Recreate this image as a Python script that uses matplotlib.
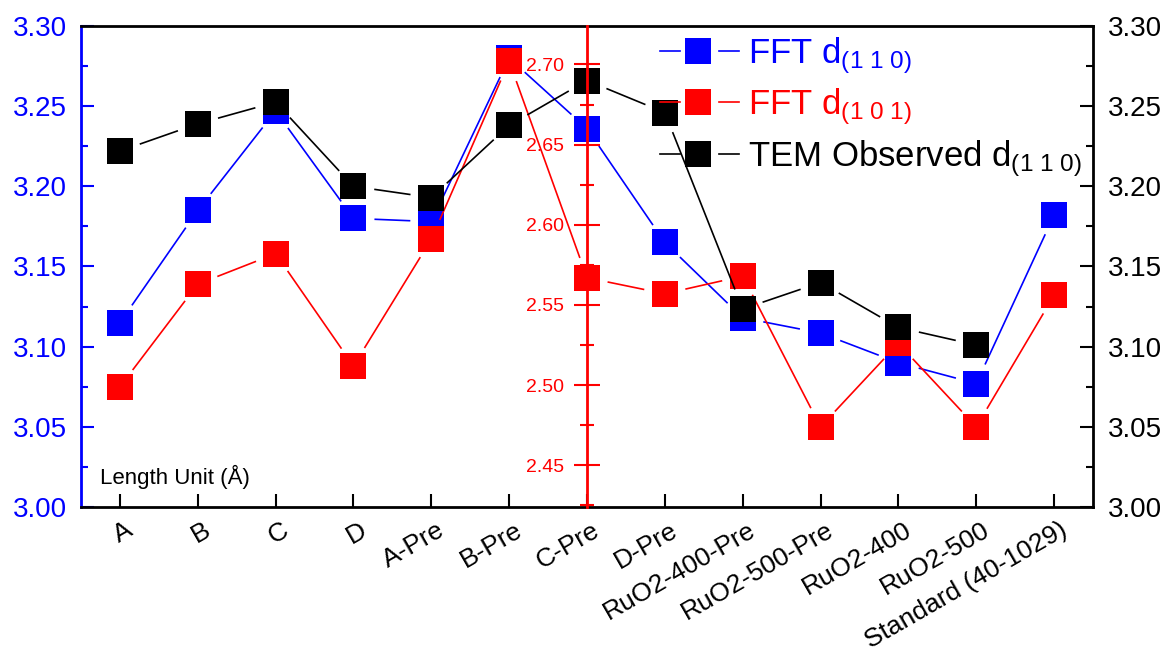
import numpy as np
import matplotlib
matplotlib.use('Agg')
import matplotlib.pyplot as plt
import matplotlib.transforms as mtransforms
from matplotlib.lines import Line2D
from matplotlib.ticker import MultipleLocator, FormatStrFormatter

plt.rcParams['font.family'] = ['Liberation Sans', 'DejaVu Sans']
plt.rcParams['mathtext.fontset'] = 'custom'
plt.rcParams['mathtext.rm'] = 'Liberation Sans'
plt.rcParams['mathtext.it'] = 'Liberation Sans:italic'
plt.rcParams['mathtext.bf'] = 'Liberation Sans:bold'

samples = ['A', 'B', 'C', 'D', 'A-Pre', 'B-Pre', 'C-Pre', 'D-Pre',
           'RuO2-400-Pre', 'RuO2-500-Pre', 'RuO2-400', 'RuO2-500',
           'Standard (40-1029)']
# d-spacings in Angstrom
fft_110 = [3.115, 3.185, 3.247, 3.180, 3.178, 3.280, 3.236, 3.165,
           3.118, 3.1085, 3.090, 3.077, 3.182]
fft_101 = [2.499, 2.563, 2.582, 2.512, 2.591, 2.702, 2.567, 2.557,
           2.568, 2.474, 2.526, 2.474, 2.556]
tem_110 = [3.222, 3.239, 3.2525, 3.200, 3.193, 3.238, 3.266, 3.246,
           3.1235, 3.140, 3.112, 3.101]

BLUE = '#0000ff'
RED = '#ff0000'
BLACK = '#000000'

W, H = 1169, 655
fig = plt.figure(figsize=(W / 100, H / 100), dpi=100)
ax = fig.add_axes([81 / W, 1 - 507 / H, (1093 - 81) / W, (507 - 26) / H])
ax.set_xlim(-0.5, 12.5)
ax.set_ylim(3.00, 3.30)

ax_r = ax.twinx()
ax_r.set_ylim(3.00, 3.30)
ax_red = ax.twinx()
ax_red.set_ylim(2.424, 2.724)

# spines
for s in ['left', 'bottom', 'top']:
    ax.spines[s].set_linewidth(2)
ax.spines['left'].set_color(BLUE)
ax.spines['right'].set_visible(False)
for s in ['left', 'top', 'bottom']:
    ax_r.spines[s].set_visible(False)
ax_r.spines['right'].set_linewidth(2)
for s in ['right', 'top', 'bottom']:
    ax_red.spines[s].set_visible(False)
ax_red.spines['left'].set_position(('data', 6))
ax_red.spines['left'].set_color(RED)
ax_red.spines['left'].set_linewidth(2)
ax_red.yaxis.tick_left()

# left axis
ax.yaxis.set_major_locator(MultipleLocator(0.05))
ax.yaxis.set_minor_locator(MultipleLocator(0.025))
ax.yaxis.set_major_formatter(FormatStrFormatter('%.2f'))
ax.tick_params(axis='y', which='both', direction='in', colors=BLUE,
               labelsize=20, pad=10, width=1.5, right=False)
ax.tick_params(axis='y', which='major', length=9.4)
ax.tick_params(axis='y', which='minor', length=4.7)

# right axis
ax_r.yaxis.set_major_locator(MultipleLocator(0.05))
ax_r.yaxis.set_minor_locator(MultipleLocator(0.025))
ax_r.yaxis.set_major_formatter(FormatStrFormatter('%.2f'))
ax_r.tick_params(axis='y', which='both', direction='in', colors=BLACK,
                 labelsize=20, pad=11, width=1.5)
ax_r.tick_params(axis='y', which='major', length=9.4)
ax_r.tick_params(axis='y', which='minor', length=4.7)

# red axis through C-Pre
ax_red.yaxis.set_major_locator(MultipleLocator(0.05))
ax_red.yaxis.set_minor_locator(MultipleLocator(0.025))
ax_red.yaxis.set_major_formatter(FormatStrFormatter('%.2f'))
ax_red.tick_params(axis='y', which='both', direction='inout', colors=RED,
                   labelsize=14, pad=7, width=1.5)
ax_red.tick_params(axis='y', which='major', length=18.7)
ax_red.tick_params(axis='y', which='minor', length=9.4)

# categories
xs = np.arange(len(samples))
ax.set_xticks(xs)
ax.set_xticklabels(samples, rotation=30, ha='right', va='top')
ax.tick_params(axis='x', direction='in', length=9.4, width=1.5,
               labelsize=19, pad=8, top=False, colors=BLACK)
shift = mtransforms.ScaledTranslation(0.17, 0, fig.dpi_scale_trans)
for lab in ax.get_xticklabels():
    lab.set_transform(lab.get_transform() + shift)

red_trans = mtransforms.blended_transform_factory(ax.transData, ax_red.transData)


def gapped_line(trans, x, y, color, gap, zorder):
    pts = trans.transform(np.column_stack([x, y]))
    inv = trans.inverted()
    for p0, p1 in zip(pts[:-1], pts[1:]):
        d = p1 - p0
        n = np.hypot(d[0], d[1])
        if n <= 2 * gap:
            continue
        u = d / n
        seg = inv.transform(np.array([p0 + u * gap, p1 - u * gap]))
        ax.plot(seg[:, 0], seg[:, 1], color=color, lw=1.2,
                transform=trans, zorder=zorder, solid_capstyle='butt')


MS = 18.7
GAP = 21
series = [
    (xs, fft_110, BLUE, ax.transData),
    (xs, fft_101, RED, red_trans),
    (xs[:len(tem_110)], tem_110, BLACK, ax.transData),
]
for i, (x, y, c, tr) in enumerate(series):
    z = 2 + i * 0.2
    gapped_line(tr, x, y, c, GAP, z)
    ax.plot(x, y, 's', ms=MS, color=c, mew=0, transform=tr, zorder=z + 0.1)

ax.text(100, H - 477, 'Length Unit (Å)', transform=None, fontsize=16,
        va='center', ha='left')


def fx(px):
    return px / W


def fy(py):
    return 1 - py / H


legend_rows = [
    (51, BLUE, 'FFT d$_{\\mathregular{(1\\ 1\\ 0)}}$'),
    (102, RED, 'FFT d$_{\\mathregular{(1\\ 0\\ 1)}}$'),
    (154, BLACK, 'TEM Observed d$_{\\mathregular{(1\\ 1\\ 0)}}$'),
]
for yc, c, label in legend_rows:
    fig.add_artist(Line2D([fx(660), fx(680)], [fy(yc), fy(yc)], color=c,
                          lw=1.2, transform=fig.transFigure))
    fig.add_artist(Line2D([fx(719), fx(739)], [fy(yc), fy(yc)], color=c,
                          lw=1.2, transform=fig.transFigure))
    fig.add_artist(Line2D([fx(698)], [fy(yc)], marker='s', ms=MS, mew=0,
                          color=c, transform=fig.transFigure))
    fig.text(fx(748), fy(yc + 12), label, color=c, fontsize=25,
             va='baseline', ha='left')

fig.savefig('out.png', dpi=100)
